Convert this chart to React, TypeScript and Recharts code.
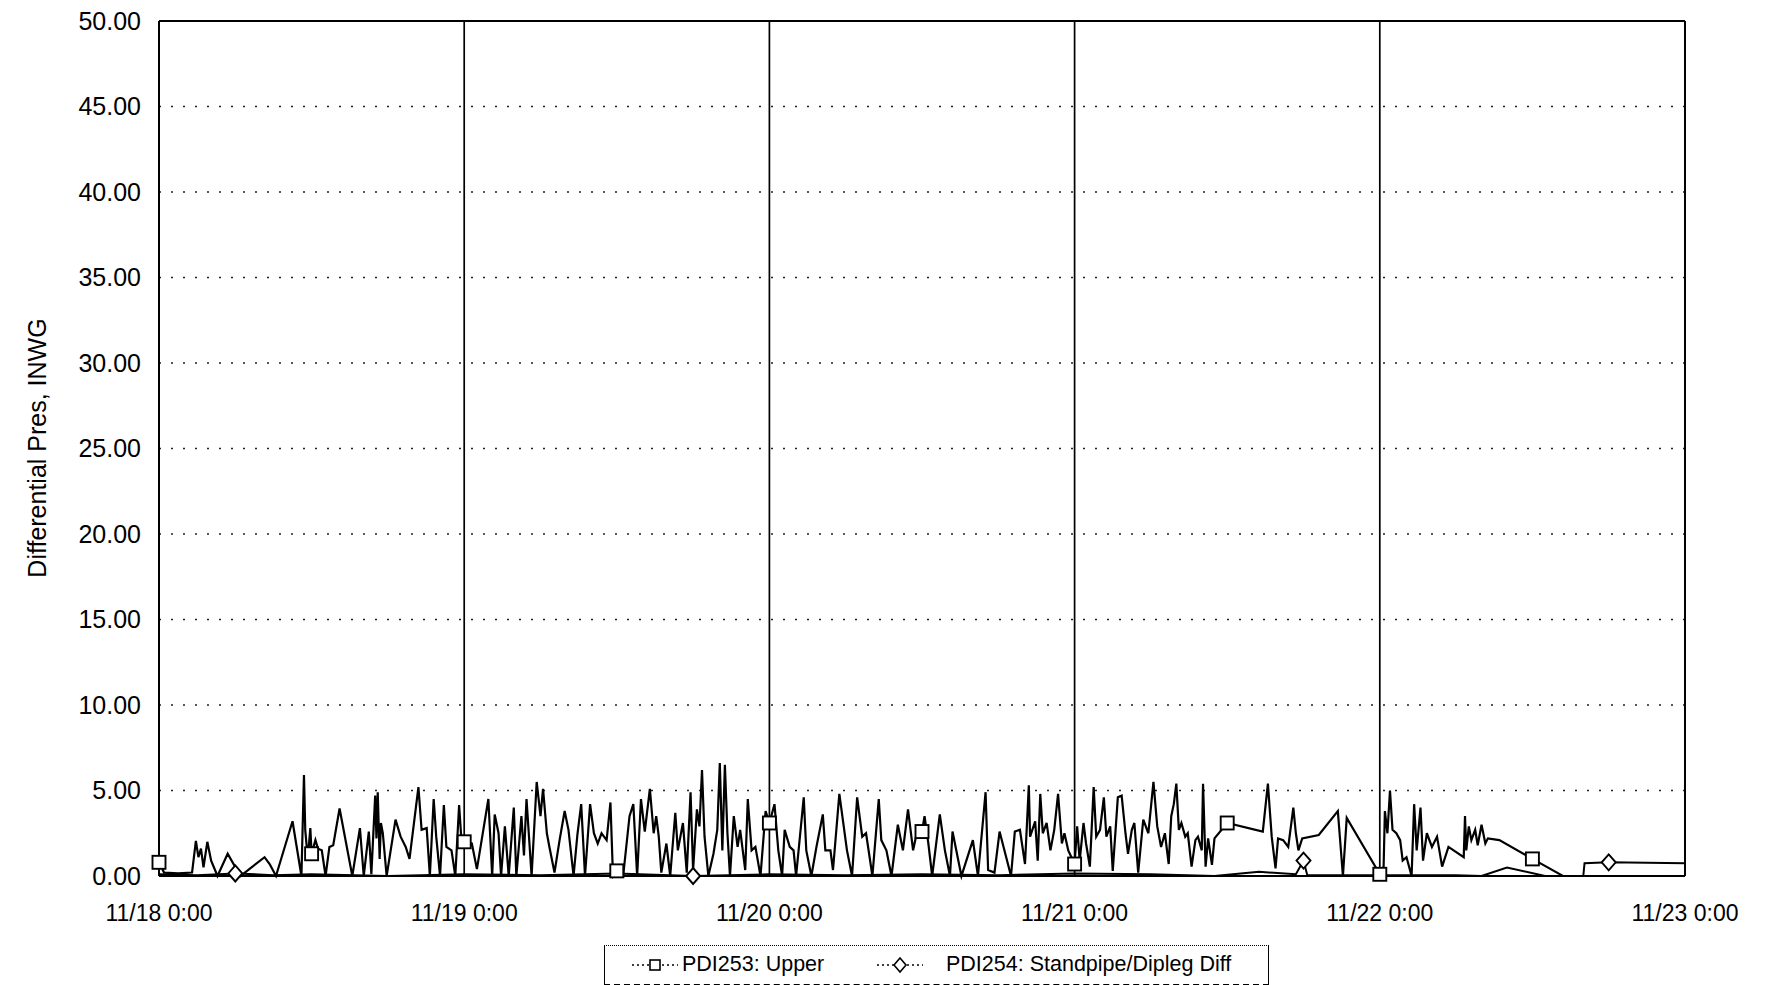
import { CartesianGrid, Line, LineChart, ReferenceLine, XAxis, YAxis } from "recharts";

type Pt = [number, number];

// hours since 11/18 0:00, differential pressure (INWG)
const upperDay1: Pt[] = [
  [0, 0.8], [0.4, 0.2], [1.5, 0.15], [2.6, 0.2], [2.9, 2.05], [3.1, 1.1], [3.3, 1.6], [3.5, 0.5],
  [3.8, 2.0], [4.1, 0.9], [4.6, 0], [5.4, 1.3], [6.4, 0], [8.3, 1.1], [8.7, 0.7], [9.2, 0],
  [10.5, 3.2], [11.2, 0], [11.4, 5.9], [11.5, 2.7], [11.7, 1.0], [11.9, 2.8], [12, 1.3], [12.3, 2.1],
  [12.5, 1.6], [12.8, 1.5], [13.1, 0], [13.4, 1.7], [13.7, 1.8], [14.2, 3.95], [15.2, 0], [15.8, 2.8],
  [16.1, 0], [16.5, 2.6], [16.7, 0.1], [17.0, 4.7], [17.1, 2.2], [17.2, 4.9], [17.35, 1.0], [17.45, 3.1],
  [17.6, 2.5], [17.9, 0], [18.6, 3.3], [19.0, 2.3], [19.4, 1.7], [19.7, 1.0], [20.1, 3.4], [20.4, 5.2],
  [20.65, 2.7], [21.05, 2.8], [21.3, 0], [21.6, 4.5], [21.8, 2.3], [22.1, 0], [22.4, 4.15], [22.6, 1.7],
  [23.0, 1.5], [23.3, 0], [23.6, 4.15], [23.8, 1.9], [24, 2.0],
];

const upperDay2: Pt[] = [
  [24.6, 1.9], [25.0, 0.4], [25.9, 4.5], [26.2, 0], [26.4, 3.6], [26.7, 2.5], [26.9, 0], [27.2, 2.9],
  [27.5, 0], [27.9, 4.0], [28.1, 0], [28.5, 3.5], [28.7, 1.2], [28.9, 4.5], [29.3, 0], [29.7, 5.5],
  [30.0, 3.5], [30.2, 5.1], [30.5, 2.5], [30.7, 1.7], [31.1, 0.2], [31.5, 2.1], [31.9, 3.8], [32.2, 2.7],
  [32.6, 0], [32.9, 2.4], [33.2, 4.2], [33.5, 0], [33.9, 4.2], [34.2, 2.5], [34.5, 1.9], [34.8, 2.5],
  [35.2, 2.1], [35.5, 4.3], [35.7, 0], [36, 0.3], [36.5, 0], [37.0, 3.5], [37.3, 4.2], [37.6, 0],
  [37.9, 4.5], [38.2, 2.6], [38.6, 5.1], [38.9, 2.5], [39.1, 3.5], [39.3, 2.3], [39.5, 0.2], [39.9, 1.9],
  [40.2, 0], [40.6, 3.7], [40.8, 1.5], [41.2, 3.1], [41.5, 0.2], [41.8, 4.9], [42.0, 0.35], [42.3, 3.9],
  [42.5, 2.9], [42.7, 6.2], [42.9, 2.3], [43.2, 0], [43.6, 1.3], [43.9, 2.7], [44.1, 6.6], [44.3, 1.5],
  [44.5, 6.5], [44.7, 2.5], [44.9, 0], [45.2, 3.5], [45.5, 1.7], [45.7, 2.7], [46.1, 0.35], [46.3, 4.5],
  [46.6, 1.5], [46.9, 1.7], [47.3, 0], [47.7, 3.8], [48, 3.1],
];

const upperDay3: Pt[] = [
  [48.4, 4.2], [48.7, 1.5], [49.0, 0], [49.2, 2.7], [49.6, 1.7], [49.9, 1.5], [50.1, 0], [50.7, 4.6],
  [50.9, 1.5], [51.3, 0], [51.7, 1.7], [52.2, 3.6], [52.4, 1.5], [52.8, 1.5], [53.0, 0.35], [53.5, 4.8],
  [54.1, 1.5], [54.5, 0], [54.9, 4.6], [55.3, 2.3], [55.6, 2.5], [56.1, 0], [56.6, 4.5], [56.8, 2.1],
  [57.2, 1.5], [57.6, 0], [58.1, 3.0], [58.5, 1.5], [58.9, 3.9], [59.3, 1.5], [59.7, 2.9], [60, 2.6],
  [60.2, 3.5], [60.5, 1.9], [60.8, 0], [61.4, 3.6], [61.8, 1.5], [62.2, 0], [62.4, 2.6], [63.1, 0],
  [64.0, 2.1], [64.4, 0], [65.0, 4.9], [65.2, 0.35], [65.7, 0.2], [66.1, 2.6], [67.0, 0], [67.3, 2.6],
  [67.7, 2.7], [68.1, 0.7], [68.4, 5.3], [68.5, 2.3], [68.9, 3.2], [69.1, 0.9], [69.3, 4.8], [69.5, 2.5],
  [69.8, 3.1], [70.1, 1.5], [70.4, 2.7], [70.7, 4.8], [71.0, 1.9], [71.2, 2.5], [71.5, 1.5], [72, 0.7],
];

const upperDay4: Pt[] = [
  [72.2, 2.9], [72.4, 0.9], [72.7, 3.1], [72.9, 1.9], [73.2, 0.55], [73.5, 5.2], [73.7, 2.3], [74.0, 2.7],
  [74.3, 4.6], [74.5, 2.3], [74.8, 2.9], [75.0, 0.3], [75.4, 4.6], [75.7, 4.7], [76.0, 2.5], [76.2, 1.3],
  [76.5, 2.7], [76.7, 3.1], [77.0, 0.2], [77.4, 3.3], [77.8, 2.5], [78.2, 5.5], [78.5, 2.9], [78.8, 1.7],
  [79.1, 2.5], [79.4, 0.7], [79.6, 3.5], [79.8, 4.2], [80.0, 5.4], [80.2, 2.7], [80.4, 3.1], [80.7, 2.3],
  [80.9, 2.5], [81.2, 0.55], [81.5, 2.1], [81.7, 2.3], [82.0, 1.5], [82.1, 5.4], [82.3, 0.55], [82.5, 2.2],
  [82.8, 0.65], [83.0, 2.2], [84, 3.1], [86.8, 2.6], [87.2, 5.4], [87.5, 2.3], [87.8, 0.45], [88.0, 2.2],
  [88.4, 2.1], [88.8, 1.7], [89.2, 4.0], [89.4, 2.5], [89.6, 1.5], [89.9, 2.2], [91.2, 2.4], [92.7, 3.8],
  [93.1, 0], [93.4, 3.4], [96, 0.1],
];

const upperDay5: Pt[] = [
  [96.3, 0.55], [96.4, 3.8], [96.6, 2.5], [96.8, 5.0], [97.0, 2.7], [97.3, 2.5], [97.6, 2.1], [97.8, 0.9],
  [98.1, 1.1], [98.5, 0], [98.7, 4.2], [98.9, 1.5], [99.2, 4.0], [99.4, 0.9], [99.7, 2.5], [100.1, 1.7],
  [100.5, 2.3], [100.9, 0.55], [101.4, 1.7], [102.6, 1.1], [102.7, 3.5], [102.8, 1.5], [103.0, 2.9],
  [103.2, 2.1], [103.5, 2.7], [103.7, 1.8], [104.0, 3.0], [104.3, 1.9], [104.5, 2.2], [105.4, 2.1],
  [108, 1.0], [110.4, 0], [120, 0],
];

const diplegPoints: Pt[] = [
  [0, 0.1], [3, 0.05], [6, 0.15], [9, 0.05], [12, 0.1], [18, 0], [24, 0.1], [30, 0.05], [36, 0.15],
  [42, 0], [48, 0.1], [54, 0.05], [60, 0.1], [66, 0.05], [72, 0.15], [78, 0.1], [83, 0], [86.5, 0.25],
  [89.4, 0.1], [90, 0.9], [90.3, 0.05], [96, 0.05], [102, 0.05], [104, 0], [106, 0.5], [109, 0],
  [112, 0], [112.1, 0.75], [114, 0.8], [120, 0.75],
];

// marker positions that show in the picture
const UPPER_MARKERS = [0, 12, 24, 36, 48, 60, 72, 84, 96, 108];
const DIPLEG_MARKERS = [6, 42, 90, 114];

const HOUR_TICKS = [0, 24, 48, 72, 96, 120];
const DAY_LABELS = ["11/18 0:00", "11/19 0:00", "11/20 0:00", "11/21 0:00", "11/22 0:00", "11/23 0:00"];
const Y_TICKS = [0, 5, 10, 15, 20, 25, 30, 35, 40, 45, 50];
const DAY_LINES = [24, 48, 72, 96];

const FONT = '"Liberation Sans", Arial, sans-serif';

type Row = { h: number; upper?: number; dipleg?: number };

function buildRows(): Row[] {
  const rows = new Map<number, Row>();
  const put = (pts: Pt[], key: "upper" | "dipleg") => {
    pts.forEach(([h, v]) => {
      const r = rows.get(h) ?? { h };
      r[key] = v;
      rows.set(h, r);
    });
  };
  [upperDay1, upperDay2, upperDay3, upperDay4, upperDay5].forEach((d) => put(d, "upper"));
  put(diplegPoints, "dipleg");
  return [...rows.values()].sort((a, b) => a.h - b.h);
}

function markerDot(kind: "square" | "diamond", key: "upper" | "dipleg", hours: number[]) {
  return (props: any) => {
    const { cx, cy, payload, index } = props;
    const k = `${kind}-${index}`;
    if (cx == null || cy == null || payload?.[key] == null || !hours.includes(payload.h)) {
      return <g key={k} />;
    }
    if (kind === "square") {
      return (
        <rect key={k} x={cx - 6.5} y={cy - 6.5} width={13} height={13} fill="#fff" stroke="#000" strokeWidth={1.9} />
      );
    }
    return (
      <path
        key={k}
        d={`M${cx},${cy - 8}L${cx + 7},${cy}L${cx},${cy + 8}L${cx - 7},${cy}Z`}
        fill="#fff"
        stroke="#000"
        strokeWidth={1.9}
      />
    );
  };
}

function LegendSample({ kind }: { kind: "square" | "diamond" }) {
  return (
    <svg width={50} height={20} style={{ display: "block" }}>
      <line x1={2} y1={10} x2={48} y2={10} stroke="#000" strokeWidth={1.5} strokeDasharray="2 3" />
      {kind === "square" ? (
        <rect x={20} y={5} width={10} height={10} fill="#fff" stroke="#000" strokeWidth={1.6} />
      ) : (
        <path d="M25,3L31,10L25,17L19,10Z" fill="#fff" stroke="#000" strokeWidth={1.6} />
      )}
    </svg>
  );
}

export default function App() {
  const rows = buildRows();
  return (
    <div
      style={{
        position: "absolute",
        left: 0,
        top: 0,
        width: 1765,
        height: 985,
        overflow: "hidden",
        background: "#fff",
        fontFamily: FONT,
      }}
    >
      <LineChart width={1765} height={985} data={rows} margin={{ top: 21, right: 80, bottom: 49, left: 0 }}>
        <CartesianGrid vertical={false} stroke="#222" strokeWidth={1.4} strokeDasharray="2 10" />
        <XAxis
          dataKey="h"
          type="number"
          domain={[0, 120]}
          ticks={HOUR_TICKS}
          tickFormatter={(v: number) => DAY_LABELS[HOUR_TICKS.indexOf(v)] ?? ""}
          height={60}
          tickSize={0}
          tickMargin={29}
          axisLine={{ stroke: "#000", strokeWidth: 2 }}
          tick={{ fill: "#000", fontSize: 23, fontFamily: FONT }}
          interval={0}
        />
        <YAxis
          type="number"
          domain={[0, 50]}
          ticks={Y_TICKS}
          tickFormatter={(v: number) => v.toFixed(2)}
          width={159}
          tickSize={0}
          tickMargin={18}
          axisLine={{ stroke: "#000", strokeWidth: 2 }}
          tick={{ fill: "#000", fontSize: 25, fontFamily: FONT }}
          interval={0}
        />
        {DAY_LINES.map((h) => (
          <ReferenceLine key={h} x={h} stroke="#000" strokeWidth={1.7} />
        ))}
        <ReferenceLine y={50} stroke="#000" strokeWidth={2} />
        <ReferenceLine x={120} stroke="#000" strokeWidth={2} />
        <Line
          type="linear"
          dataKey="dipleg"
          stroke="#000"
          strokeWidth={2}
          connectNulls
          isAnimationActive={false}
          activeDot={false}
          dot={markerDot("diamond", "dipleg", DIPLEG_MARKERS)}
        />
        <Line
          type="linear"
          dataKey="upper"
          stroke="#000"
          strokeWidth={2.2}
          connectNulls
          isAnimationActive={false}
          activeDot={false}
          dot={markerDot("square", "upper", UPPER_MARKERS)}
        />
      </LineChart>

      <div
        style={{
          position: "absolute",
          left: 37,
          top: 448,
          transform: "translate(-50%, -50%) rotate(-90deg)",
          whiteSpace: "nowrap",
          fontSize: 25,
          color: "#000",
        }}
      >
        Differential Pres, INWG
      </div>

      <div
        style={{
          position: "absolute",
          left: 604,
          top: 945,
          width: 663,
          height: 38,
          borderLeft: "1.5px solid #000",
          borderRight: "1.5px solid #000",
          borderTop: "1.5px dotted #000",
          borderBottom: "2px dashed #000",
          fontSize: 21.5,
          color: "#000",
        }}
      >
        <div style={{ position: "absolute", left: 25, top: 9 }}>
          <LegendSample kind="square" />
        </div>
        <div style={{ position: "absolute", left: 77, top: 6, whiteSpace: "nowrap" }}>PDI253: Upper</div>
        <div style={{ position: "absolute", left: 270, top: 9 }}>
          <LegendSample kind="diamond" />
        </div>
        <div style={{ position: "absolute", left: 341, top: 6, whiteSpace: "nowrap" }}>
          PDI254: Standpipe/Dipleg Diff
        </div>
      </div>
    </div>
  );
}
